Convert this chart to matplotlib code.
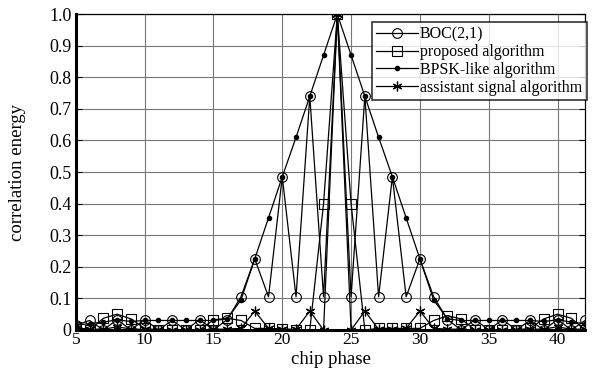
import matplotlib
matplotlib.use("Agg")
from matplotlib import pyplot as plt

plt.rcParams['font.family'] = ['Liberation Serif', 'DejaVu Serif']

# chip phase 5..42
x = list(range(5, 43))

boc = [0.015, 0.03, 0.0, 0.033, 0.0, 0.033, 0.0, 0.03, 0.0, 0.033, 0.0,
       0.033, 0.105, 0.225, 0.105, 0.485, 0.105, 0.74, 0.105, 1.0, 0.105,
       0.74, 0.105, 0.485, 0.105, 0.225, 0.105, 0.033, 0.0, 0.033, 0.0,
       0.033, 0.0, 0.03, 0.0, 0.033, 0.0, 0.03]
proposed = [0.01, 0.0, 0.037, 0.05, 0.035, 0.005, 0.0, 0.0, 0.0, 0.0, 0.032,
            0.037, 0.03, 0.005, 0.005, 0.002, 0.0, 0.0, 0.4, 1.0, 0.4,
            0.0, 0.005, 0.005, 0.005, 0.005, 0.03, 0.045, 0.035, 0.0, 0.0,
            0.0, 0.0, 0.005, 0.035, 0.05, 0.037, 0.0]
bpsk = [0.015, 0.02, 0.025, 0.032, 0.027, 0.03, 0.03, 0.03, 0.03, 0.03, 0.03,
        0.035, 0.095, 0.225, 0.355, 0.485, 0.61, 0.74, 0.87, 1.0, 0.87,
        0.74, 0.61, 0.485, 0.355, 0.225, 0.095, 0.035, 0.03, 0.03, 0.03,
        0.03, 0.03, 0.03, 0.027, 0.032, 0.025, 0.02]
assist = [0.005, 0.003, 0.002, 0.01, 0.003, 0.002, 0.0, 0.0, 0.0, 0.0, 0.002,
          0.003, 0.005, 0.06, 0.005, 0.003, 0.002, 0.06, 0.0, 1.0, 0.0,
          0.06, 0.002, 0.003, 0.005, 0.06, 0.005, 0.003, 0.002, 0.0, 0.0,
          0.0, 0.0, 0.002, 0.003, 0.01, 0.002, 0.003]

fig = plt.figure(figsize=(5.97, 3.72), dpi=100)
ax = fig.add_axes([0.127, 0.113, 0.853, 0.849])

ax.plot(x, boc, '-', color='black', lw=0.9, marker='o', ms=7, mfc='none',
        mec='black', mew=0.8, label='BOC(2,1)')
ax.plot(x, proposed, '-', color='black', lw=0.9, marker='s', ms=6.5, mfc='none',
        mec='black', mew=0.8, label='proposed algorithm')
ax.plot(x, bpsk, '-', color='black', lw=0.9, marker='o', ms=3, mfc='black',
        mec='black', label='BPSK-like algorithm')
ax.plot(x, assist, '-', color='black', lw=0.9, marker=(6, 2, 0), ms=7,
        mec='black', mew=0.9, label='assistant signal algorithm')

ax.set_xlim(5, 42)
ax.set_ylim(0, 1.0)
ax.set_xticks([5, 10, 15, 20, 25, 30, 35, 40])
yt = [i / 10 for i in range(11)]
ax.set_yticks(yt)
ax.set_yticklabels(['0'] + ['%.1f' % v for v in yt[1:]])
ax.grid(True, color='#777777', lw=0.8)
ax.tick_params(direction='in', labelsize=13, right=True, length=4, pad=3)
ax.tick_params(axis='x', labelsize=12.5, pad=1.5)

for s in ['left', 'bottom']:
    ax.spines[s].set_linewidth(2.2)
for s in ['top', 'right']:
    ax.spines[s].set_linewidth(0.9)

ax.set_xlabel('chip phase', fontsize=13.5)
ax.set_ylabel('correlation energy', fontsize=13.5)
ax.xaxis.set_label_coords(0.5, -0.066)
ax.yaxis.set_label_coords(-0.097, 0.5)

leg = ax.legend(loc='upper right', bbox_to_anchor=(1.003, 0.975), fontsize=11.5,
                frameon=True, fancybox=False, edgecolor='black',
                handlelength=2.6, handletextpad=0.1, borderpad=0.3,
                labelspacing=0.1, borderaxespad=0.0)
leg.get_frame().set_linewidth(1.2)

fig.savefig('out.png', dpi=100)
plt.close(fig)
